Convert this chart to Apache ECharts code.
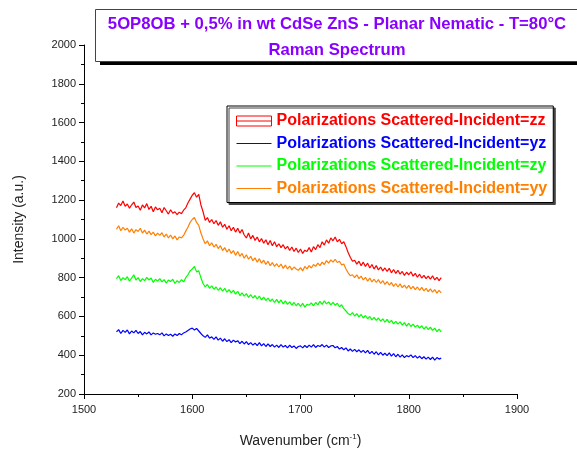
<!DOCTYPE html>
<html>
<head>
<meta charset="utf-8">
<script src="https://cdn.jsdelivr.net/npm/echarts@6/dist/echarts.min.js"></script>
<style>
    html, body { margin: 0; padding: 0; background: #fff; }
    #chart { width: 577px; height: 450px; }
</style>
</head>
<body>
<div id="chart"></div>
<script>
// Raman spectrum, 4 polarizations
var wavenumber = [
    1530,1532,1534,1536,1538,1540,1542,1544,1546,1548,1550,1552,1554,1556,1558,1560,1562,1564,1566,1568,
    1570,1572,1574,1576,1578,1580,1582,1584,1586,1588,1590,1592,1594,1596,1598,1600,1602,1604,1606,1608,
    1610,1612,1614,1616,1618,1620,1622,1624,1626,1628,1630,1632,1634,1636,1638,1640,1642,1644,1646,1648,
    1650,1652,1654,1656,1658,1660,1662,1664,1666,1668,1670,1672,1674,1676,1678,1680,1682,1684,1686,1688,
    1690,1692,1694,1696,1698,1700,1702,1704,1706,1708,1710,1712,1714,1716,1718,1720,1722,1724,1726,1728,
    1730,1732,1734,1736,1738,1740,1742,1744,1746,1748,1750,1752,1754,1756,1758,1760,1762,1764,1766,1768,
    1770,1772,1774,1776,1778,1780,1782,1784,1786,1788,1790,1792,1794,1796,1798,1800,1802,1804,1806,1808,
    1810,1812,1814,1816,1818,1820,1822,1824,1826,1828,1830
];

var seriesNames = [
    'Polarizations Scattered-Incident=zz',
    'Polarizations Scattered-Incident=yz',
    'Polarizations Scattered-Incident=zy',
    'Polarizations Scattered-Incident=yy'
];
var colorList = ['#FF0000', '#0000FF', '#00FF00', '#FF8000'];

var zz = [
    1160,1185,1172,1195,1168, 1180,1158,1176,1190,1162, 1170,1148,1175,1160,1182, 1152,1168,1140,1165,1150,
    1158,1135,1162,1145,1128, 1150,1132,1140,1125,1138, 1130,1148,1160,1185,1205, 1225,1238,1215,1230,1175,
    1140,1095,1110,1085,1100, 1078,1095,1070,1088,1060, 1075,1050,1068,1042,1060, 1035,1055,1030,1048,1020,
    1005,1030,1000,1018,992, 1010,985,1002,978,995, 970,992,965,985,960, 975,955,970,948,962,
    940,958,935,952,930, 948,925,942,935,955, 932,960,945,970,955, 985,968,995,978,1005,
    990,1010,985,998,975, 985,960,930,905,885, 890,870,885,862,880, 858,875,850,868,845,
    862,840,855,835,850, 832,848,825,842,822, 838,818,832,812,828, 815,830,808,822,802,
    818,798,812,795,808, 792,810,788,802,785, 800
];
var yz = [
    520,532,512,528,518, 530,510,525,515,528, 512,522,505,518,510, 520,505,515,508,512,
    505,515,500,510,502, 508,498,510,502,512, 505,515,520,528,535, 540,530,538,525,512,
    500,492,505,488,495, 482,495,478,488,472, 485,470,480,465,478, 468,475,460,472,458,
    470,455,465,452,462, 450,465,448,460,445, 458,445,455,442,452, 440,455,442,450,438,
    452,440,448,435,445, 448,438,450,440,452, 442,455,440,450,445, 455,442,452,440,448,
    450,438,445,432,440, 428,438,422,432,420, 430,418,428,415,425, 412,425,408,420,405,
    418,402,415,400,410, 398,412,395,408,392, 405,390,402,388,398, 392,402,388,398,385,
    395,382,392,380,390, 378,390,375,388,380, 385
];
var zy = [
    795,810,785,800,790, 805,782,798,815,788, 800,780,795,785,802, 788,798,775,792,782,
    795,778,790,772,788, 780,792,770,785,775, 790,778,800,815,835, 845,858,830,835,800,
    770,752,765,745,758, 740,752,735,748,730, 745,725,738,722,735, 715,730,708,722,705,
    718,698,712,695,708, 690,705,685,700,682, 695,678,690,672,688, 670,685,665,680,662,
    675,658,672,655,668, 652,668,648,662,658, 670,655,672,660,678, 662,680,665,675,660,
    672,658,668,650,660, 640,628,615,608,620, 602,615,598,610,592, 605,588,600,582,595,
    580,592,575,588,570, 585,568,580,562,575, 560,572,555,568,550, 565,548,560,545,555,
    540,552,535,548,532, 545,528,540,522,535, 520
];
var yy = [
    1050,1068,1042,1060,1045, 1055,1035,1052,1030,1048, 1038,1055,1030,1045,1025, 1040,1022,1035,1015,1030,
    1018,1032,1010,1025,1005, 1020,1000,1015,995,1010, 1005,1018,1040,1060,1085, 1100,1110,1085,1070,1030,
    1000,975,990,965,980, 958,972,950,965,940, 955,932,948,925,940, 915,935,910,925,900,
    918,895,910,888,902, 880,898,875,890,868, 885,862,878,858,872, 855,870,848,865,845,
    860,840,855,845,838, 852,835,858,845,862, 850,868,858,875,862, 880,868,888,875,892,
    880,895,878,885,865, 870,845,825,810,815, 800,815,795,808,788, 802,782,798,778,792,
    775,790,770,785,765, 780,762,775,755,770, 752,768,748,762,745, 760,742,755,738,752,
    735,750,732,745,728, 742,725,738,720,735, 722
];

var xTicks = { min: 1500, max: 1900, interval: 100 };
var yTicks = { min: 200, max: 2000, interval: 200 };

function pairs(values) {
    var out = [];
    for (var i = 0; i < wavenumber.length; i++) {
        out.push([wavenumber[i], values[i]]);
    }
    return out;
}

var allValues = [zz, yz, zy, yy];
var series = [];
for (var k = 0; k < seriesNames.length; k++) {
    series.push({
        name: seriesNames[k],
        type: 'line',
        symbol: 'none',
        animation: false,
        data: pairs(allValues[k]),
        lineStyle: { color: colorList[k], width: 1.2 },
        itemStyle: { color: colorList[k] }
    });
}

var font = 'Liberation Sans, Arial, sans-serif';
// legend line icon: thin bar in the middle, tiny corner dots keep the 35x10 box
var lineIcon = 'path://M0,0H0.01V0.01H0Z M0,4.5H35V5.5H0Z M34.99,9.99H35V10H34.99Z';

var option = {
    animation: false,
    graphic: [{
        type: 'rect',
        z: 0,
        shape: { x: 100, y: 13, width: 500, height: 52 },
        style: { fill: '#000' }
    }, {
        type: 'rect',
        z: 1,
        shape: { x: 95.5, y: 9.5, width: 500, height: 52 },
        style: { fill: '#fff', stroke: '#444', lineWidth: 1 }
    }],
    title: {
        text: '5OP8OB + 0,5% in wt CdSe ZnS - Planar Nematic - T=80°C\nRaman Spectrum',
        left: 337,
        top: 11,
        padding: 0,
        textAlign: 'center',
        z: 10,
        textStyle: {
            color: '#8A00FF',
            fontFamily: font,
            fontSize: 16.7,
            fontWeight: 'bold',
            lineHeight: 26
        }
    },
    legend: {
        orient: 'vertical',
        left: 227,
        top: 106,
        padding: [7, 6, 6, 9],
        itemWidth: 35,
        itemHeight: 10,
        itemGap: 6.5,
        backgroundColor: '#fff',
        borderColor: '#000',
        borderWidth: 1,
        shadowColor: '#444',
        shadowOffsetX: 2,
        shadowOffsetY: 2,
        shadowBlur: 0,
        textStyle: { fontFamily: font, fontSize: 16, fontWeight: 'bold' },
        data: [
            {
                name: seriesNames[0],
                icon: 'path://M0,0H35V10H0Z M0,5H35',
                itemStyle: { color: 'transparent', borderColor: colorList[0], borderWidth: 1 },
                textStyle: { color: colorList[0] }
            },
            { name: seriesNames[1], icon: lineIcon, itemStyle: { color: colorList[1] }, textStyle: { color: colorList[1] } },
            { name: seriesNames[2], icon: lineIcon, itemStyle: { color: colorList[2] }, textStyle: { color: colorList[2] } },
            { name: seriesNames[3], icon: lineIcon, itemStyle: { color: colorList[3] }, textStyle: { color: colorList[3] } }
        ]
    },
    grid: { left: 84, right: 60, top: 45, bottom: 56, outerBoundsMode: 'none', containLabel: false },
    xAxis: {
        type: 'value',
        min: xTicks.min,
        max: xTicks.max,
        interval: xTicks.interval,
        name: 'Wavenumber (cm{sup|-1})',
        nameLocation: 'middle',
        nameGap: 39,
        nameTextStyle: {
            fontFamily: font, fontSize: 14, color: '#222',
            rich: { sup: { fontFamily: font, fontSize: 8, color: '#222', verticalAlign: 'top', padding: [0, 0, 8, 0] } }
        },
        axisLine: { lineStyle: { color: '#000', width: 1 } },
        axisTick: { inside: false, length: 5, lineStyle: { color: '#000' } },
        minorTick: { show: true, splitNumber: 2, length: 3, lineStyle: { color: '#000' } },
        splitLine: { show: false },
        axisLabel: {
            fontFamily: font, fontSize: 11, color: '#222', margin: 10,
            formatter: function (v) { return String(v); }
        }
    },
    yAxis: {
        type: 'value',
        min: yTicks.min,
        max: yTicks.max,
        interval: yTicks.interval,
        name: 'Intensity (a.u.)',
        nameLocation: 'middle',
        nameGap: 58,
        nameTextStyle: { fontFamily: font, fontSize: 14, color: '#222' },
        axisLine: { show: true, lineStyle: { color: '#000', width: 1 } },
        axisTick: { show: true, length: 5, lineStyle: { color: '#000' } },
        minorTick: { show: true, splitNumber: 2, length: 3, lineStyle: { color: '#000' } },
        splitLine: { show: false },
        axisLabel: {
            fontFamily: font, fontSize: 11, color: '#222', margin: 8,
            formatter: function (v) { return String(v); }
        }
    },
    series: series
};

var chart = echarts.init(document.getElementById('chart'));
chart.setOption(option, true);
</script>
</body>
</html>
